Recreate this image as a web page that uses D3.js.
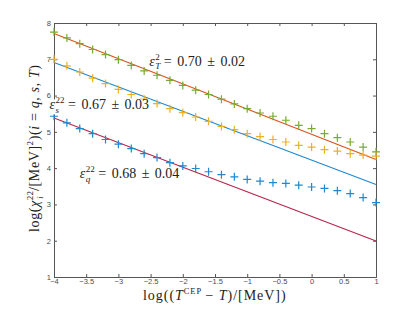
<!DOCTYPE html>
<html>
<head>
<meta charset="utf-8">
<script src="https://cdn.jsdelivr.net/npm/d3@7"></script>
<style>
  body { margin: 0; background: #fff; }
  .tick text { font-family: "Liberation Sans", Arial, sans-serif; font-size: 7.5px; fill: #4d4d4d; }
  .lbl { font-family: "Liberation Serif", "DejaVu Serif", serif; fill: #222; }
</style>
</head>
<body>
<div id="chart"></div>
<script>
// ---- data ----
const xVals = [-4, -3.8, -3.6, -3.4, -3.2, -3, -2.8, -2.6, -2.4, -2.2, -2, -1.8, -1.6,
               -1.4, -1.2, -1, -0.8, -0.6, -0.4, -0.2, 0, 0.2, 0.4, 0.6, 0.8, 1];
const tVals = [7.75, 7.59, 7.43, 7.27, 7.13, 6.99, 6.83, 6.68, 6.56, 6.42, 6.28, 6.15, 6.03,
               5.90, 5.77, 5.64, 5.52, 5.43, 5.32, 5.18, 5.09, 4.95, 4.84, 4.72, 4.58, 4.45];
const sVals = [7.00, 6.82, 6.65, 6.48, 6.33, 6.17, 6.03, 5.90, 5.78, 5.64, 5.53, 5.41, 5.29,
               5.15, 5.06, 4.95, 4.87, 4.79, 4.72, 4.63, 4.58, 4.51, 4.47, 4.40, 4.36, 4.33];
const qVals = [5.43, 5.25, 5.09, 4.95, 4.79, 4.66, 4.54, 4.40, 4.29, 4.15, 4.06, 3.99, 3.90,
               3.82, 3.76, 3.69, 3.64, 3.60, 3.58, 3.53, 3.48, 3.44, 3.38, 3.30, 3.19, 3.05];
// fit lines: value at x = -4 and x = 1
const fitX = [-4, 1];
const fitT = [7.71, 4.24];
const fitS = [6.91, 3.55];
const fitQ = [5.38, 1.99];
const xTicks = [-4, -3.5, -3, -2.5, -2, -1.5, -1, -0.5, 0, 0.5, 1];
const yTicks = [1, 2, 3, 4, 5, 6, 7, 8];

const width = 415, height = 312;
const margin = { left: 54, top: 23, right: 39, bottom: 35 };

const svg = d3.select("#chart").append("svg")
  .attr("width", width)
  .attr("height", height);

const x = d3.scaleLinear().domain([-4, 1]).range([margin.left, width - margin.right]);
const y = d3.scaleLinear().domain([1, 8]).range([height - margin.bottom, margin.top]);

const axisColor = "#555";

// axes (ticks point inward, box on all four sides)
function styleAxis(g) {
  g.select(".domain").attr("stroke", axisColor).attr("stroke-width", 1);
  g.selectAll(".tick line").attr("stroke", axisColor);
}

svg.append("g")
  .attr("transform", `translate(0,${y(1)})`)
  .call(d3.axisBottom(x).tickValues(xTicks).tickSize(-3).tickPadding(2).tickFormat(d3.format("")))
  .call(styleAxis);
svg.append("g")
  .attr("transform", `translate(0,${y(8)})`)
  .call(d3.axisTop(x).tickValues(xTicks).tickSize(-3).tickFormat(""))
  .call(styleAxis);
svg.append("g")
  .attr("transform", `translate(${x(-4)},0)`)
  .call(d3.axisLeft(y).tickValues(yTicks).tickSize(-3).tickPadding(3).tickFormat(d3.format("")))
  .call(styleAxis);
svg.append("g")
  .attr("transform", `translate(${x(1)},0)`)
  .call(d3.axisRight(y).tickValues(yTicks).tickSize(-3).tickFormat(""))
  .call(styleAxis);

// ---- fit lines ----
const line = d3.line().x((d, i) => x(fitX[i])).y(d => y(d));
const fits = [
  { vals: fitT, color: "#D95319" },
  { vals: fitS, color: "#1E88D2" },
  { vals: fitQ, color: "#B8244A" }
];
svg.selectAll("path.fit").data(fits).enter().append("path")
  .attr("class", "fit")
  .attr("fill", "none")
  .attr("stroke", d => d.color)
  .attr("stroke-width", 1.1)
  .attr("d", d => line(d.vals));

// ---- markers ("+") ----
const series = [
  { vals: tVals, color: "#77AC30" },
  { vals: sVals, color: "#EDB120" },
  { vals: qVals, color: "#1E88D2" }
];
const half = 4;
series.forEach(s => {
  svg.append("g").selectAll("path").data(s.vals).enter().append("path")
    .attr("transform", (d, i) => `translate(${x(xVals[i])},${y(d)})`)
    .attr("d", `M${-half},0H${half}M0,${-half}V${half}`)
    .attr("stroke", s.color)
    .attr("stroke-width", 1.2);
});

// ---- math annotations ----
function mathText(px, py, base, sup, sub, rest, bg) {
  const g = svg.append("g");
  const b = g.append("text").attr("class", "lbl").attr("x", px).attr("y", py)
    .attr("font-size", 14).attr("font-style", "italic").text(base);
  const bw = b.node().getComputedTextLength();
  const sp = g.append("text").attr("class", "lbl").attr("x", px + bw + 0.5).attr("y", py - 6)
    .attr("font-size", 9).text(sup);
  const sb = g.append("text").attr("class", "lbl").attr("x", px + bw + 0.5).attr("y", py + 3.5)
    .attr("font-size", 9).attr("font-style", "italic").text(sub);
  const sw = Math.max(sp.node().getComputedTextLength(), sb.node().getComputedTextLength());
  g.append("text").attr("class", "lbl").attr("x", px + bw + sw + 4).attr("y", py)
    .attr("font-size", 14).attr("word-spacing", 2).text(rest);
  if (bg) {
    // white box behind the text, it hides the left axis line like in the original
    const bb = g.node().getBBox();
    g.insert("rect", ":first-child")
      .attr("x", bb.x - 1).attr("y", py - 10).attr("width", bb.width + 2).attr("height", 15)
      .attr("fill", "#fff");
  }
}
mathText(x(-2.52), y(6.82), "\u03B5", "2", "T", "= 0.70 \u00B1 0.02", false);
mathText(x(-4.07), y(5.62), "\u03B5", "22", "s", "= 0.67 \u00B1 0.03", true);
mathText(x(-3.6), y(3.72), "\u03B5", "22", "q", "= 0.68 \u00B1 0.04", false);

// spread a label's letters so it spans the same length as in the original
function fitLength(text, target) {
  const w = text.node().getBBox().width;
  const n = text.text().length;
  text.attr("letter-spacing", (target - w) / n);
}

// ---- axis labels ----
const xl = svg.append("text").attr("class", "lbl")
  .attr("x", 143).attr("y", 300).attr("font-size", 14);
xl.append("tspan").text("log((");
xl.append("tspan").attr("font-style", "italic").text("T");
xl.append("tspan").attr("font-size", "0.6em").attr("dy", "-0.7em").text("CEP");
xl.append("tspan").attr("dy", "0.42em").attr("dx", "0.25em").text("\u2212 ");
xl.append("tspan").attr("font-style", "italic").text("T");
xl.append("tspan").text(")/[MeV])");
fitLength(xl, 144);

const yl = svg.append("text").attr("class", "lbl")
  .attr("transform", `translate(39,${y(4.55)}) rotate(-90)`)
  .attr("text-anchor", "middle").attr("font-size", 14);
yl.append("tspan").text("log(");
yl.append("tspan").attr("font-style", "italic").text("\u03C7");
yl.append("tspan").attr("font-size", "0.6em").attr("dy", "-0.7em").text("22");
yl.append("tspan").attr("font-size", "0.6em").attr("font-style", "italic")
  .attr("dx", "-1em").attr("dy", "1.15em").text("i");
yl.append("tspan").attr("dx", "0.35em").attr("dy", "-0.27em").text("/[MeV]");
yl.append("tspan").attr("font-size", "0.6em").attr("dy", "-0.7em").text("2");
yl.append("tspan").attr("dy", "0.42em").text(")(");
yl.append("tspan").attr("font-style", "italic").text("i");
yl.append("tspan").text(" = ");
yl.append("tspan").attr("font-style", "italic").text("q, s, T");
yl.append("tspan").text(")");
fitLength(yl, 168);
</script>
</body>
</html>
